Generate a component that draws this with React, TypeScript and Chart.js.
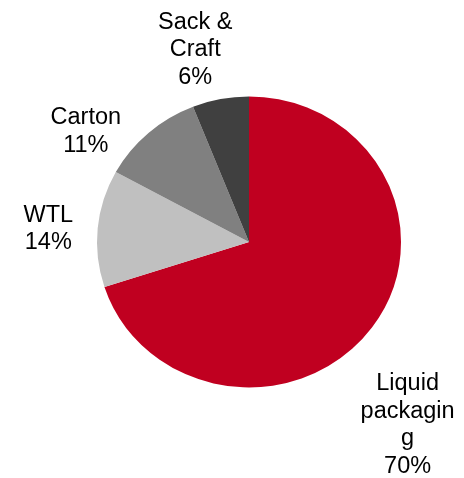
import React, { useEffect, useRef } from "react";
import { Chart, registerables } from "chart.js";

Chart.register(...registerables);

// Data
const categories = ["Liquid packaging", "WTL", "Carton", "Sack & Craft"];
const shares = [70, 13, 11, 6];
const percentLabels = ["70%", "14%", "11%", "6%"];
const nameLines = [["Liquid", "packagin", "g"], ["WTL"], ["Carton"], ["Sack &", "Craft"]];

// Styles
const sliceColors = ["#C00020", "#C0C0C0", "#808080", "#404040"];
// label anchor: polar angle (deg, clockwise from top) and distance as a multiple of the radius
const labelAngles = [138.8, 274.3, 304.5, 344.5];
const labelDistances = [1.584, 1.324, 1.303, 1.324];
const verticalSquash = 0.957;
const FONT_SIZE = 23.5;
const LINE_HEIGHT = 27.5;

const squashPlugin = {
  id: "squash",
  beforeDatasetsDraw(chart: any) {
    const arc = chart.getDatasetMeta(0).data[0];
    if (!arc) return;
    const { x, y } = arc.getProps(["x", "y"], true);
    const ctx = chart.ctx;
    ctx.save();
    ctx.translate(x, y);
    ctx.scale(1, verticalSquash);
    ctx.translate(-x, -y);
  },
  afterDatasetsDraw(chart: any) {
    chart.ctx.restore();
  },
};

const labelPlugin = {
  id: "outsideLabels",
  afterDraw(chart: any) {
    const meta = chart.getDatasetMeta(0);
    const ctx = chart.ctx;
    ctx.save();
    ctx.font = `${FONT_SIZE}px "Liberation Sans", Arial, sans-serif`;
    ctx.fillStyle = "#000000";
    ctx.textAlign = "center";
    ctx.textBaseline = "alphabetic";
    meta.data.forEach((arc: any, i: number) => {
      const { x, y, outerRadius } = arc.getProps(["x", "y", "outerRadius"], true);
      const a = (labelAngles[i] * Math.PI) / 180;
      const d = outerRadius * labelDistances[i];
      const cx = x + d * Math.sin(a);
      const cy = y - d * Math.cos(a);
      const lines = [...nameLines[i], percentLabels[i]];
      const n = lines.length;
      lines.forEach((t, k) => {
        const mid = cy + (k - (n - 1) / 2) * LINE_HEIGHT;
        ctx.fillText(t, cx, mid + FONT_SIZE * 0.358);
      });
    });
    ctx.restore();
  },
};

export default function App() {
  const ref = useRef<HTMLCanvasElement | null>(null);
  useEffect(() => {
    document.body.style.margin = "0";
    if (!ref.current) return;
    const chart = new Chart(ref.current, {
      type: "pie",
      data: {
        labels: categories,
        datasets: [
          {
            data: shares,
            backgroundColor: sliceColors,
            borderWidth: 0,
            hoverOffset: 0,
          },
        ],
      },
      options: {
        animation: false,
        responsive: true,
        maintainAspectRatio: false,
        events: [],
        layout: { padding: { left: 97, right: 63, top: 90, bottom: 84 } },
        plugins: {
          legend: { display: false },
          tooltip: { enabled: false },
        },
      },
      plugins: [squashPlugin, labelPlugin],
    });
    return () => chart.destroy();
  }, []);
  return (
    <div style={{ position: "absolute", left: 0, top: 0, width: 464, height: 478, background: "#fff" }}>
      <canvas ref={ref} />
    </div>
  );
}
